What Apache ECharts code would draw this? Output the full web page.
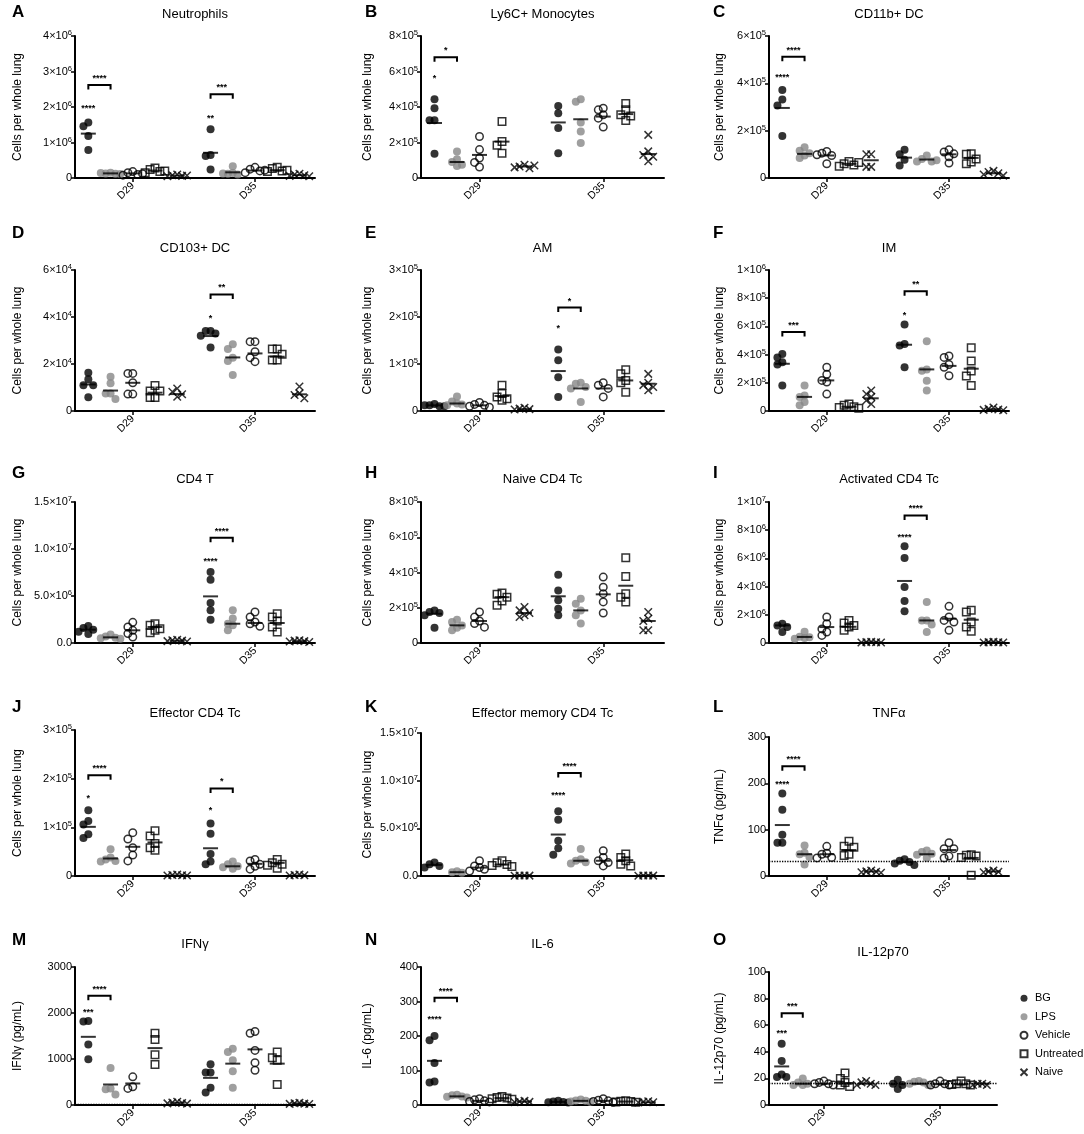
<!DOCTYPE html>
<html>
<head>
<meta charset="utf-8">
<script src="https://cdn.jsdelivr.net/npm/echarts@6/dist/echarts.min.js"></script>
<style>
  html, body { margin: 0; padding: 0; background: #fff; }
  #main { width: 1084px; height: 1134px; }
</style>
</head>
<body>
<div id="main"></div>
<script>
var groups = ['BG', 'LPS', 'Vehicle', 'Untreated', 'Naive'];
var dayLabels = ['D29', 'D35'];
var cellsName = 'Cells per whole lung';

// values per day: [BG, LPS, Vehicle, Untreated, Naive]; means = horizontal bars as drawn
// sig: [kind, dayIndex, y, text]
var neutrophils = [
  [[1.56, 1.46, 1.18, 0.79], [0.15, 0.13, 0.12, 0.14, 0.11], [0.18, 0.15, 0.10, 0.08, 0.12], [0.28, 0.24, 0.18, 0.15, 0.20], [0.10, 0.08, 0.06, 0.05, 0.07]],
  [[1.37, 0.65, 0.62, 0.24], [0.33, 0.14, 0.12, 0.10, 0.13], [0.30, 0.25, 0.20, 0.15, 0.22], [0.30, 0.27, 0.20, 0.18, 0.22], [0.12, 0.10, 0.08, 0.06, 0.05]]
];
var neutrophilsMeans = [[1.25, 0.13, 0.13, 0.21, 0.07], [0.71, 0.16, 0.21, 0.22, 0.08]];
var neutrophilsSig = [['star', 0, 2.0, '****'], ['bracket', 0, 2.62, '****'], ['star', 1, 1.73, '**'], ['bracket', 1, 2.36, '***']];

var monocytes = [
  [[4.44, 3.93, 3.25, 3.25, 1.37], [1.5, 1.05, 0.9, 0.75, 0.68], [2.34, 1.6, 1.12, 0.88, 0.62], [3.18, 2.06, 1.85, 1.4], [0.75, 0.65, 0.55, 0.6, 0.7]],
  [[4.06, 3.65, 2.81, 1.4], [4.44, 4.3, 3.13, 2.62, 1.97], [3.93, 3.84, 3.56, 3.37, 2.87], [4.2, 3.84, 3.56, 3.5, 3.24], [2.43, 1.5, 1.3, 1.2, 0.94]]
];
var monocytesMeans = [[3.1, 0.9, 1.3, 2.05, 0.65], [3.13, 3.31, 3.46, 3.6, 1.35]];
var monocytesSig = [['star', 0, 5.67, '*'], ['bracket', 0, 6.8, '*']];

var cd11bDC = [
  [[3.72, 3.32, 3.06, 1.77], [1.3, 1.15, 1.05, 0.95, 0.85], [1.12, 1.05, 0.95, 0.6, 0.98], [0.7, 0.6, 0.55, 0.5, 0.65], [1.0, 1.0, 0.47, 0.47]],
  [[1.19, 1.0, 0.77, 0.53], [0.95, 0.8, 0.7, 0.7, 0.75], [1.19, 1.1, 1.02, 0.9, 0.63], [1.02, 1.0, 0.8, 0.68, 0.6], [0.3, 0.25, 0.2, 0.15, 0.1]]
];
var cd11bDCMeans = [[2.96, 1.02, 0.95, 0.6, 0.75], [0.86, 0.78, 1.0, 0.85, 0.2]];
var cd11bDCSig = [['star', 0, 4.3, '****'], ['bracket', 0, 5.12, '****']];

var cd103DC = [
  [[1.35, 1.63, 1.1, 1.1, 0.58], [1.46, 1.18, 0.75, 0.75, 0.51], [1.6, 1.6, 1.2, 0.72, 0.72], [1.08, 0.85, 0.85, 0.57, 0.57], [0.96, 0.82, 0.71, 0.61]],
  [[3.4, 3.4, 3.3, 3.2, 2.7], [2.84, 2.64, 2.27, 2.13, 1.53], [2.95, 2.95, 2.52, 2.27, 2.1], [2.64, 2.64, 2.41, 2.17, 2.17], [1.04, 0.75, 0.68, 0.54]]
];
var cd103DCMeans = [[1.13, 0.87, 1.2, 0.78, 0.72], [3.19, 2.28, 2.45, 2.31, 0.71]];
var cd103DCSig = [['star', 1, 4.0, '*'], ['bracket', 1, 4.96, '**']];

var am = [
  [[0.15, 0.12, 0.1, 0.12, 0.1], [0.31, 0.2, 0.16, 0.14, 0.12], [0.18, 0.14, 0.12, 0.1, 0.08], [0.55, 0.37, 0.3, 0.26, 0.23], [0.07, 0.05, 0.04, 0.03]],
  [[1.31, 1.08, 0.72, 0.3], [0.6, 0.58, 0.51, 0.48, 0.19], [0.6, 0.55, 0.48, 0.3], [0.88, 0.79, 0.65, 0.6, 0.4], [0.79, 0.6, 0.55, 0.51, 0.44]]
];
var amMeans = [[0.12, 0.16, 0.12, 0.32, 0.04], [0.85, 0.48, 0.48, 0.65, 0.58]];
var amSig = [['star', 1, 1.79, '*'], ['bracket', 1, 2.2, '*']];

var im = [
  [[4.05, 3.8, 3.45, 3.3, 1.8], [1.8, 1.1, 1.0, 0.64, 0.4], [3.1, 2.6, 2.17, 2.05, 1.2], [0.5, 0.4, 0.3, 0.25, 0.2], [1.45, 1.2, 1.0, 0.75, 0.5]],
  [[6.13, 4.76, 4.64, 3.1], [4.95, 2.95, 2.85, 2.15, 1.45], [3.9, 3.8, 3.3, 3.1, 2.5], [4.48, 3.54, 2.83, 2.48, 1.8], [0.25, 0.15, 0.1, 0.08, 0.05]]
];
var imMeans = [[3.35, 1.0, 2.17, 0.3, 0.9], [4.7, 2.95, 3.2, 3.0, 0.12]];
var imSig = [['bracket', 0, 5.6, '***'], ['star', 1, 6.9, '*'], ['bracket', 1, 8.5, '**']];

var cd4T = [
  [[1.8, 1.6, 1.4, 1.2, 0.95], [0.9, 0.7, 0.55, 0.5, 0.45], [2.2, 1.7, 1.35, 1.0, 0.64], [2.05, 1.88, 1.52, 1.35, 1.1], [0.35, 0.3, 0.25, 0.2, 0.15]],
  [[7.55, 6.74, 4.26, 3.48, 2.48], [3.48, 2.6, 2.05, 1.9, 1.35], [3.3, 2.77, 2.23, 2.05, 1.77], [3.12, 2.77, 2.34, 1.7, 1.17], [0.3, 0.25, 0.2, 0.15, 0.1]]
];
var cd4TMeans = [[1.42, 0.6, 1.35, 1.7, 0.25], [4.96, 2.05, 2.13, 2.13, 0.2]];
var cd4TSig = [['star', 1, 8.87, '****'], ['bracket', 1, 11.2, '****']];

var naiveCd4 = [
  [[1.85, 1.76, 1.7, 1.57, 0.87], [1.32, 1.19, 1.0, 0.87, 0.72], [1.76, 1.47, 1.25, 1.1, 0.9], [2.83, 2.76, 2.6, 2.38, 2.14], [2.04, 1.85, 1.7, 1.57, 1.47]],
  [[3.87, 2.98, 2.42, 1.95, 1.57], [2.51, 2.23, 1.85, 1.57, 1.1], [3.74, 3.17, 2.8, 2.33, 1.7], [4.84, 3.78, 2.8, 2.6, 2.32], [1.76, 1.38, 1.25, 0.72, 0.72]]
];
var naiveCd4Means = [[1.66, 1.0, 1.25, 2.6, 1.7], [2.65, 1.85, 2.76, 3.25, 1.25]];
var naiveCd4Sig = [];

var activatedCd4 = [
  [[1.37, 1.25, 1.13, 0.78], [0.8, 0.45, 0.4, 0.35, 0.3], [1.84, 1.37, 1.0, 0.78, 0.54], [1.6, 1.42, 1.25, 1.13, 0.9], [0.08, 0.06, 0.05, 0.04, 0.03]],
  [[6.86, 6.03, 3.97, 2.98, 2.25], [2.9, 1.6, 1.6, 1.32, 0.78], [2.6, 1.84, 1.6, 1.49, 0.9], [2.32, 2.2, 1.49, 1.13, 0.83], [0.08, 0.06, 0.05, 0.04, 0.03]]
];
var activatedCd4Means = [[1.25, 0.43, 1.13, 1.15, 0.05], [4.4, 1.6, 1.72, 1.65, 0.05]];
var activatedCd4Sig = [['star', 1, 7.56, '****'], ['bracket', 1, 9.05, '****']];

var effectorCd4 = [
  [[1.35, 1.13, 1.06, 0.86, 0.78], [0.55, 0.38, 0.34, 0.31, 0.3], [0.89, 0.76, 0.58, 0.43, 0.31], [0.93, 0.82, 0.67, 0.58, 0.53], [0.03, 0.02, 0.015, 0.01, 0.01]],
  [[1.08, 0.87, 0.45, 0.3, 0.24], [0.3, 0.24, 0.2, 0.18, 0.15], [0.34, 0.31, 0.24, 0.2, 0.14], [0.34, 0.27, 0.24, 0.22, 0.16], [0.03, 0.02, 0.015, 0.01]]
];
var effectorCd4Means = [[1.01, 0.36, 0.6, 0.69, 0.01], [0.57, 0.2, 0.25, 0.27, 0.01]];
var effectorCd4Sig = [['star', 0, 1.63, '*'], ['bracket', 0, 2.07, '****'], ['star', 1, 1.37, '*'], ['bracket', 1, 1.8, '*']];

var effMemCd4 = [
  [[1.41, 1.24, 1.06, 0.88], [0.5, 0.4, 0.35], [1.6, 1.06, 0.88, 0.7, 0.53], [1.6, 1.4, 1.2, 1.1, 1.0], [0.06, 0.05, 0.04, 0.03]],
  [[6.78, 5.9, 3.71, 2.9, 2.23], [2.83, 1.77, 1.6, 1.45, 1.3], [2.65, 1.94, 1.6, 1.41, 1.06], [2.3, 1.94, 1.6, 1.24, 1.06], [0.06, 0.05, 0.04, 0.03]]
];
var effMemCd4Means = [[1.17, 0.4, 0.88, 1.2, 0.05], [4.35, 1.6, 1.6, 1.66, 0.05]];
var effMemCd4Sig = [['star', 1, 8.6, '****'], ['bracket', 1, 10.8, '****']];

var tnf = [
  [[178, 143, 89, 72, 72], [66, 50, 47, 41, 25], [64, 49, 47, 40, 39], [75, 64, 62, 47, 44], [12, 10, 9, 8, 7]],
  [[36, 33, 30, 27, 24], [55, 52, 48, 46, 39], [72, 59, 59, 43, 39], [46, 45, 43, 40, 1.5], [12, 10, 9, 8]]
];
var tnfMeans = [[110, 47, 47, 56, 10], [30, 47, 56, 39, 10]];
var tnfSig = [['star', 0, 200, '****'], ['bracket', 0, 237, '****']];

var ifn = [
  [[1827, 1813, 1317, 993], [806, 360, 345, 230], [612, 396, 360], [1561, 1424, 1094, 878], [70, 55, 45, 35, 30]],
  [[885, 705, 705, 374, 273], [1223, 1151, 971, 734, 374], [1597, 1561, 1187, 921, 755], [1151, 1029, 971, 446], [50, 40, 30, 25, 20]]
];
var ifnMeans = [[1482, 446, 468, 1237, 50], [590, 899, 1209, 899, 35]];
var ifnSig = [['star', 0, 2036, '***'], ['bracket', 0, 2374, '****']];

var il6 = [
  [[200, 188, 122, 68, 65], [30, 28, 25, 24, 22], [18, 15, 12, 10, 9], [25, 22, 20, 18, 17], [12, 10, 9, 8]],
  [[12, 10, 9, 8, 7], [16, 13, 12, 10, 9], [18, 14, 12, 10, 8], [12, 11, 10, 9, 8], [11, 9, 8, 7]]
];
var il6Means = [[128, 25, 12, 20, 10], [9, 12, 12, 10, 8]];
var il6Sig = [['star', 0, 251, '****'], ['bracket', 0, 311, '****']];

var il12 = [
  [[46, 33, 23, 21, 21], [20, 17, 16, 15, 15], [18, 17, 16, 16, 15], [24, 20, 17, 15, 14], [18, 17, 16, 15, 15]],
  [[19, 16, 15, 12], [18, 17.5, 17, 16, 15], [18, 16, 16, 15, 15], [18, 16, 16, 15.5, 15], [16, 16, 15, 15]]
];
var il12Means = [[29, 16, 16, 16, 16], [15.6, 16, 15.6, 15.6, 16]];
var il12Sig = [['star', 0, 54.7, '***'], ['bracket', 0, 69, '***']];

// detection limits (dotted lines)
var tnfLod = 32, ifnLod = 15, il12Lod = 16;

var panels = [
  { letter: 'A', title: 'Neutrophils', yName: cellsName, data: neutrophils, means: neutrophilsMeans, sig: neutrophilsSig, scale: 1e6, max: 4, step: 1, dec: 0 },
  { letter: 'B', title: 'Ly6C+ Monocytes', yName: cellsName, data: monocytes, means: monocytesMeans, sig: monocytesSig, scale: 1e5, max: 8, step: 2, dec: 0 },
  { letter: 'C', title: 'CD11b+ DC', yName: cellsName, data: cd11bDC, means: cd11bDCMeans, sig: cd11bDCSig, scale: 1e5, max: 6, step: 2, dec: 0 },
  { letter: 'D', title: 'CD103+ DC', yName: cellsName, data: cd103DC, means: cd103DCMeans, sig: cd103DCSig, scale: 1e4, max: 6, step: 2, dec: 0 },
  { letter: 'E', title: 'AM', yName: cellsName, data: am, means: amMeans, sig: amSig, scale: 1e5, max: 3, step: 1, dec: 0 },
  { letter: 'F', title: 'IM', yName: cellsName, data: im, means: imMeans, sig: imSig, scale: 1e5, max: 10, step: 2, dec: 0 },
  { letter: 'G', title: 'CD4 T', yName: cellsName, data: cd4T, means: cd4TMeans, sig: cd4TSig, scale: 1e6, max: 15, step: 5, dec: 1 },
  { letter: 'H', title: 'Naive CD4 Tc', yName: cellsName, data: naiveCd4, means: naiveCd4Means, sig: naiveCd4Sig, scale: 1e5, max: 8, step: 2, dec: 0 },
  { letter: 'I', title: 'Activated CD4 Tc', yName: cellsName, data: activatedCd4, means: activatedCd4Means, sig: activatedCd4Sig, scale: 1e6, max: 10, step: 2, dec: 0 },
  { letter: 'J', title: 'Effector CD4 Tc', yName: cellsName, data: effectorCd4, means: effectorCd4Means, sig: effectorCd4Sig, scale: 1e5, max: 3, step: 1, dec: 0 },
  { letter: 'K', title: 'Effector memory CD4 Tc', yName: cellsName, data: effMemCd4, means: effMemCd4Means, sig: effMemCd4Sig, scale: 1e6, max: 15, step: 5, dec: 1 },
  { letter: 'L', title: 'TNFα', yName: 'TNFα (pg/mL)', data: tnf, means: tnfMeans, sig: tnfSig, scale: 1, max: 300, step: 100, plain: true, lod: tnfLod },
  { letter: 'M', title: 'IFNγ', yName: 'IFNγ (pg/mL)', data: ifn, means: ifnMeans, sig: ifnSig, scale: 1, max: 3000, step: 1000, plain: true, lod: ifnLod },
  { letter: 'N', title: 'IL-6', yName: 'IL-6 (pg/mL)', data: il6, means: il6Means, sig: il6Sig, scale: 1, max: 400, step: 100, plain: true },
  { letter: 'O', title: 'IL-12p70', yName: 'IL-12p70 (pg/mL)', data: il12, means: il12Means, sig: il12Sig, scale: 1, max: 100, step: 20, plain: true, lod: il12Lod }
];

// layout
var FONT = 'Liberation Sans, Arial, Helvetica, sans-serif';
var groupX = [[1, 2, 3, 4, 5], [6.5, 7.5, 8.5, 9.5, 10.5]];
var colLeft = [75, 421, 769];
var colWidth = [240, 243, 240];
var colNameGap = [51, 47, 43];
var letterX = [12, 365, 713];
var rowTop = [36, 270, 502, 733, 967];
var rowBottom = [178, 411, 643, 876, 1105];
var rowTitle = [14, 248, 479, 713, 944];
var rowLetter = [12, 233, 473, 707, 940];
var topAdj = { J: 730, L: 737, O: 972 };
var widthAdj = { O: 228 };
var titleAdj = { O: 952 };

// tick label like 4×10^6 with a raised exponent
function sci(v, dec) {
  if (v === 0) return dec ? (0).toFixed(dec) : '0';
  var e = Math.floor(Math.log10(v) + 1e-9);
  var m = v / Math.pow(10, e);
  return '{m|' + m.toFixed(dec) + '×10}{e|' + e + '}';
}

// spread points at similar heights sideways, like a column scatter
function spread(vals, thr) {
  var cands = [0, -0.22, 0.22, -0.44, 0.44];
  var offs = [];
  vals.forEach(function (v, i) {
    var used = [];
    for (var j = 0; j < i; j++) if (Math.abs(vals[j] - v) < thr) used.push(offs[j]);
    var o = cands.find(function (c) { return used.indexOf(c) < 0; });
    offs.push(o === undefined ? 0 : o);
  });
  return offs;
}

var symbolStyle = [
  { symbol: 'circle', symbolSize: 8, itemStyle: { color: '#000' } },
  { symbol: 'circle', symbolSize: 8, itemStyle: { color: '#878787' } },
  { symbol: 'circle', symbolSize: 7.5, itemStyle: { color: 'rgba(255,255,255,0)', borderColor: '#000', borderWidth: 1.5 } },
  { symbol: 'rect', symbolSize: 7.5, itemStyle: { color: 'rgba(255,255,255,0)', borderColor: '#000', borderWidth: 1.5 } },
  { symbol: 'path://M0,0L10,10M10,0L0,10', symbolSize: 7.5, itemStyle: { color: 'none', borderColor: '#000', borderWidth: 1.5 } }
];
var legendIcons = ['circle', 'circle', 'circle', 'path://M0,0H10V10H0Z', 'path://M0,0L10,10M10,0L0,10'];

var grids = [], xAxes = [], yAxes = [], series = [], graphics = [];

panels.forEach(function (P, k) {
  var row = Math.floor(k / 3), col = k % 3;
  var top = topAdj[P.letter] || rowTop[row];
  var width = widthAdj[P.letter] || colWidth[col];
  var left = colLeft[col];
  grids.push({ left: left, top: top, width: width, height: rowBottom[row] - top, containLabel: false });

  xAxes.push({
    gridIndex: k, type: 'value', min: 0.4, max: 11.2,
    axisLine: { onZero: false, lineStyle: { color: '#000', width: 2 } },
    axisTick: { show: true, customValues: [groupX[0][2], groupX[1][2]], length: 4, lineStyle: { color: '#000', width: 1.5 } },
    axisLabel: {
      customValues: [groupX[0][2], groupX[1][2]], rotate: 45, fontSize: 10.5, color: '#000', fontFamily: FONT, margin: 6,
      formatter: function (v) { return v < 6 ? dayLabels[0] : dayLabels[1]; }
    },
    splitLine: { show: false }
  });

  yAxes.push({
    gridIndex: k, type: 'value', min: 0, max: P.max * P.scale, interval: P.step * P.scale,
    name: P.yName, nameLocation: 'middle', nameGap: colNameGap[col],
    nameTextStyle: { fontSize: 12, color: '#000', fontFamily: FONT },
    axisLine: { show: true, lineStyle: { color: '#000', width: 2 } },
    axisTick: { show: true, length: 4, lineStyle: { color: '#000', width: 1.5 } },
    axisLabel: {
      fontSize: 11, color: '#000', fontFamily: FONT, margin: 3,
      formatter: P.plain ? function (v) { return String(v); } : (function (dec) { return function (v) { return sci(v, dec); }; })(P.dec),
      rich: {
        m: { fontSize: 11, color: '#000', fontFamily: FONT, lineHeight: 14 },
        e: { fontSize: 7.5, color: '#000', fontFamily: FONT, lineHeight: 8, verticalAlign: 'top' }
      }
    },
    splitLine: { show: false }
  });

  var thr = P.max * 0.045;
  groups.forEach(function (g, gi) {
    var pts = [];
    P.data.forEach(function (dayVals, d) {
      var vals = dayVals[gi];
      var offs = spread(vals, thr);
      vals.forEach(function (v, i) { pts.push([groupX[d][gi] + offs[i], v * P.scale]); });
    });
    var st = symbolStyle[gi];
    series.push({
      type: 'scatter', name: g, xAxisIndex: k, yAxisIndex: k, data: pts,
      symbol: st.symbol, symbolSize: st.symbolSize, symbolKeepAspect: true,
      itemStyle: st.itemStyle, z: 2, silent: true
    });
  });

  var meanPts = [];
  P.means.forEach(function (dayMeans, d) {
    dayMeans.forEach(function (m, gi) { meanPts.push([groupX[d][gi], m * P.scale]); });
  });
  var meanSeries = {
    type: 'scatter', xAxisIndex: k, yAxisIndex: k, data: meanPts,
    symbol: 'rect', symbolSize: [15, 2], itemStyle: { color: '#000' }, z: 3, silent: true
  };
  if (P.lod !== undefined) {
    meanSeries.markLine = {
      silent: true, symbol: 'none', label: { show: false },
      lineStyle: { type: 'dotted', color: '#000', width: 1.3 },
      data: [{ yAxis: P.lod * P.scale }]
    };
  }
  series.push(meanSeries);

  if (P.sig.length) {
    var sig = P.sig;
    series.push({
      type: 'custom', xAxisIndex: k, yAxisIndex: k, z: 4, silent: true,
      data: sig.map(function (s) { return [groupX[s[1]][0], s[2] * P.scale]; }),
      encode: { x: 0, y: 1 },
      renderItem: function (params, api) {
        var s = sig[params.dataIndex];
        var p = api.coord([groupX[s[1]][0], api.value(1)]);
        var font = { fill: '#000', fontSize: 9, fontWeight: 'bold', fontFamily: FONT, align: 'center', verticalAlign: 'top', textAlign: 'center', textVerticalAlign: 'top' };
        if (s[0] === 'star') {
          return { type: 'text', x: p[0], y: p[1] - 3, style: Object.assign({ text: s[3] }, font) };
        }
        var q = api.coord([groupX[s[1]][1], api.value(1)]);
        return {
          type: 'group', children: [
            { type: 'polyline', shape: { points: [[p[0], p[1] + 4.5], [p[0], p[1]], [q[0], q[1]], [q[0], q[1] + 4.5]] },
              style: { stroke: '#000', lineWidth: 2, fill: null } },
            { type: 'text', x: (p[0] + q[0]) / 2, y: p[1] - 11, style: Object.assign({ text: s[3] }, font) }
          ]
        };
      }
    });
  }

  graphics.push({
    type: 'text', x: letterX[col], y: rowLetter[row],
    style: { text: P.letter, fill: '#000', fontSize: 17, fontWeight: 'bold', fontFamily: FONT, verticalAlign: 'middle', textVerticalAlign: 'middle' }
  });
  graphics.push({
    type: 'text', x: left + width / 2, y: titleAdj[P.letter] || rowTitle[row],
    style: { text: P.title, fill: '#000', fontSize: 13, fontFamily: FONT, align: 'center', verticalAlign: 'middle', textAlign: 'center', textVerticalAlign: 'middle' }
  });
});

var chart = echarts.init(document.getElementById('main'), null, { renderer: 'canvas' });
chart.setOption({
  backgroundColor: '#fff',
  animation: false,
  textStyle: { fontFamily: FONT },
  grid: grids,
  xAxis: xAxes,
  yAxis: yAxes,
  legend: {
    orient: 'vertical', left: 1013, top: 987, itemWidth: 12, itemHeight: 7, itemGap: 6,
    selectedMode: false,
    textStyle: { fontSize: 11, lineHeight: 12.5, color: '#000', fontFamily: FONT },
    data: groups.map(function (g, gi) { return { name: g, icon: legendIcons[gi] }; })
  },
  graphic: graphics,
  series: series
});
window.onresize = function () {
  chart.resize();
};
</script>
</body>
</html>
